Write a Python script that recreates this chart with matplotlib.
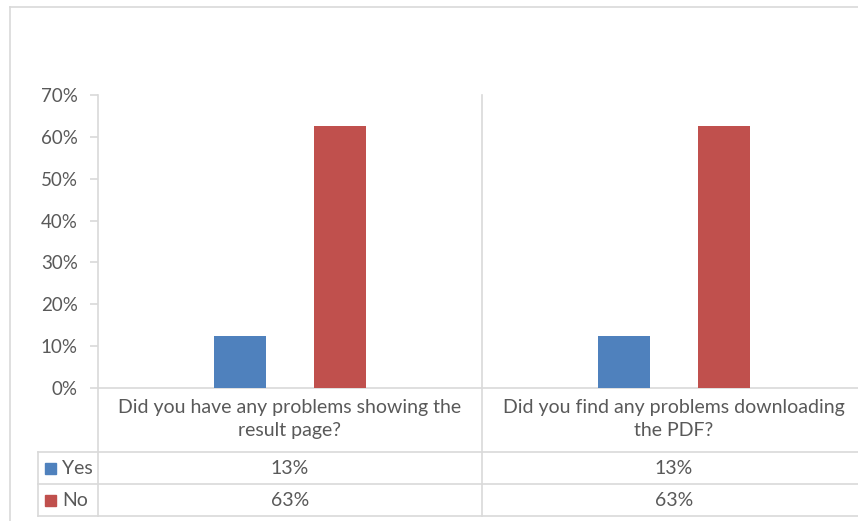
import matplotlib
matplotlib.use("Agg")
import matplotlib.pyplot as plt
from matplotlib.lines import Line2D
from matplotlib.patches import Rectangle

categories = ["Did you have any problems showing the\nresult page?",
              "Did you find any problems downloading\nthe PDF?"]
series_names = ["Yes", "No"]
yes_vals = [0.125, 0.125]
no_vals = [0.625, 0.625]
y_ticks = [0.0, 0.1, 0.2, 0.3, 0.4, 0.5, 0.6, 0.7]
y_tick_labels = ["0%", "10%", "20%", "30%", "40%", "50%", "60%", "70%"]

colors = ["#4F81BD", "#C0504D"]
grid_c = "#D9D9D9"
text_c = "#595959"
FONT = "Lato"
FS = 14

W, H = 858, 521
fig = plt.figure(figsize=(W / 100, H / 100), dpi=100)
fig.patch.set_facecolor("white")

def fx(x):
    return x / W

def fy(y):
    return 1 - y / H

def hline(y, x0, x1):
    fig.add_artist(Line2D([fx(x0), fx(x1)], [fy(y), fy(y)], color=grid_c, lw=1.2,
                          transform=fig.transFigure))

def vline(x, y0, y1):
    fig.add_artist(Line2D([fx(x), fx(x)], [fy(y0), fy(y1)], color=grid_c, lw=1.2,
                          transform=fig.transFigure))

# outer chart border
hline(7, 10, 870)
vline(10, 7, 530)

# plot axes
ax_l, ax_r, ax_t, ax_b = 98, 866, 95, 388
ax = fig.add_axes([fx(ax_l), fy(ax_b), (ax_r - ax_l) / W, (ax_b - ax_t) / H])
ax.set_xlim(-0.5, len(categories) - 0.5)
ax.set_ylim(0, 0.7)
ax.patch.set_alpha(0)

off = 50 / 384
bw = 52 / 384
xs = list(range(len(categories)))
ax.bar([x - off for x in xs], yes_vals, width=bw, color=colors[0], zorder=3)
ax.bar([x + off for x in xs], no_vals, width=bw, color=colors[1], zorder=3)

for s in ["top", "right"]:
    ax.spines[s].set_visible(False)
for s in ["left", "bottom"]:
    ax.spines[s].set_color(grid_c)
    ax.spines[s].set_linewidth(1.2)
ax.set_yticks(y_ticks)
ax.set_yticklabels(y_tick_labels, fontfamily=FONT, fontsize=13.5, color=text_c)
ax.tick_params(axis="y", length=6, width=1.2, color=grid_c, pad=8.5)
ax.set_xticks([])

# table
cell_w = (ax_r - ax_l) / len(categories)
vline(ax_l, ax_b, 516)
for i in range(1, len(categories)):
    vline(ax_l + i * cell_w, ax_t, 516)
vline(38, 452, 516)
hline(452, 38, 870)
hline(484, 38, 870)
hline(516, 38, 870)

row_vals = [yes_vals, no_vals]
row_y = [468, 500]
for i, cat in enumerate(categories):
    cx = ax_l + (i + 0.5) * cell_w
    fig.text(fx(cx), fy(419), cat, ha="center", va="center", fontfamily=FONT,
             fontsize=FS, color=text_c, linespacing=1.4)
    for r, vals in enumerate(row_vals):
        fig.text(fx(cx), fy(row_y[r]), f"{int(vals[i] * 100 + 0.5)}%", ha="center",
                 va="center", fontfamily=FONT, fontsize=FS, color=text_c)

for r, name in enumerate(series_names):
    yc = row_y[r]
    fig.add_artist(Rectangle((fx(45), fy(yc + 5.5)), 11 / W, 11 / H, color=colors[r],
                             transform=fig.transFigure))
    fig.text(fx(62), fy(yc), name, ha="left", va="center", fontfamily=FONT,
             fontsize=FS, color=text_c)

fig.savefig("out.png", dpi=100)
